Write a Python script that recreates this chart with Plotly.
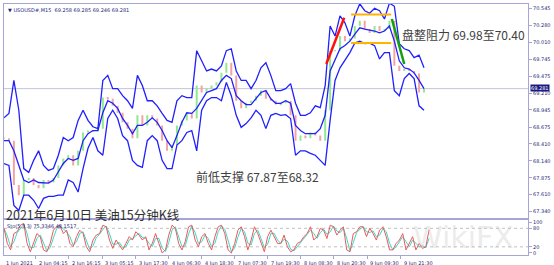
import numpy as np
import pandas as pd
import plotly.graph_objects as go

# ---------------- data ----------------
upper = [68.82, 68.89, 69.41, 68.94, 68.02, 67.96, 68.15, 68.30, 68.07, 67.99,
         68.02, 68.23, 68.51, 68.46, 68.51, 68.78, 68.94, 68.78, 68.68, 68.65,
         69.41, 69.49, 69.28, 69.28, 69.17, 69.09, 68.97, 69.49, 69.33, 69.09,
         69.09, 69.01, 68.89, 68.78, 68.75, 69.09, 69.17, 69.14, 69.14, 69.88,
         69.72, 69.56, 69.59, 69.56, 69.64, 69.88, 69.91, 69.56, 69.41, 69.41,
         69.28, 69.41, 69.61, 69.69, 69.49, 69.25, 69.25, 69.28, 69.36, 69.05,
         68.86, 68.86, 68.90, 69.01, 68.98, 69.33, 70.27, 70.11, 70.43, 70.32,
         70.11, 70.43, 70.62, 70.51, 70.47, 70.55, 70.51, 70.38, 70.63, 70.58,
         69.99, 69.91, 69.88, 69.77, 69.81, 69.61]
middle = [68.46, 68.46, 68.30, 68.07, 67.84, 67.80, 67.84, 67.80, 67.79, 67.79,
          67.84, 67.96, 68.10, 68.18, 68.15, 68.18, 68.46, 68.57, 68.62, 68.62,
          68.90, 69.09, 69.05, 68.97, 68.81, 68.70, 68.57, 68.70, 68.70, 68.75,
          68.82, 68.75, 68.62, 68.46, 68.35, 68.54, 68.75, 68.90, 68.89, 68.97,
          69.09, 69.22, 69.25, 69.28, 69.41, 69.49, 69.44, 69.17, 69.09, 69.03,
          69.03, 69.12, 69.22, 69.25, 69.12, 69.05, 69.05, 69.09, 69.05, 68.70,
          68.62, 68.57, 68.57, 68.57, 68.65, 68.86, 69.56, 69.75, 69.91, 69.96,
          70.03, 70.14, 70.24, 70.22, 70.21, 70.19, 70.16, 70.19, 70.27, 70.03,
          69.72, 69.61, 69.59, 69.53, 69.41, 69.28]
lower = [68.10, 68.07, 67.44, 67.36, 67.60, 67.60, 67.52, 67.39, 67.55, 67.58,
         67.58, 67.60, 67.60, 67.84, 67.80, 67.65, 68.02, 68.34, 68.51, 68.30,
         68.23, 68.81, 68.94, 68.81, 68.54, 68.46, 68.15, 68.07, 68.04, 68.46,
         68.54, 68.46, 68.15, 68.02, 68.02, 68.39, 68.46, 68.59, 68.62, 68.30,
         68.94, 69.09, 69.14, 69.14, 69.09, 69.38, 69.17, 68.86, 68.67, 68.73,
         68.82, 68.94, 68.86, 68.65, 68.86, 68.89, 68.86, 68.87, 68.81, 68.23,
         68.30, 68.30, 68.26, 68.23, 68.15, 68.07, 68.78, 69.41, 69.61, 69.72,
         69.85, 70.00, 70.03, 69.99, 70.00, 69.96, 69.75, 69.85, 69.85, 69.25,
         69.17, 69.44, 69.52, 69.44, 69.01, 68.94]
close = [68.50, 68.46, 67.76, 67.60, 67.84, 67.87, 67.76, 67.71, 67.84, 67.80,
         67.87, 68.07, 68.18, 68.23, 68.07, 68.30, 68.59, 68.62, 68.61, 68.65,
         69.14, 69.12, 69.01, 68.90, 68.75, 68.65, 68.50, 68.86, 68.70, 68.86,
         68.81, 68.70, 68.46, 68.30, 68.39, 68.70, 68.78, 68.90, 68.81, 69.33,
         69.22, 69.28, 69.33, 69.38, 69.53, 69.69, 69.49, 69.09, 68.97, 69.06,
         69.09, 69.17, 69.25, 69.12, 69.09, 69.03, 69.05, 69.09, 68.86, 68.46,
         68.54, 68.50, 68.59, 68.54, 68.46, 68.94, 69.88, 69.88, 70.11, 70.03,
         70.07, 70.27, 70.35, 70.22, 70.16, 70.27, 70.19, 70.22, 70.35, 69.64,
         69.56, 69.59, 69.56, 69.52, 69.22, 69.281]

sto_main = [80, 31, 10, 63, 69, 90, 96, 31, 4, 31, 63, 53, 10, 4, 31, 74, 85, 90, 63, 74,
            31, 20, 53, 74, 63, 20, 4, 42, 58, 63, 90, 85, 42, 15, 42, 26, 10, 31, 53, 42,
            69, 58, 42, 53, 10, 31, 63, 31, 0, 10, 58, 90, 80, 31, 10, 37, 85, 90, 42, 20,
            53, 63, 31, 10, 53, 85, 90, 63, 10, 0, 31, 74, 85, 53, 10, 42, 85, 63, 31, 4,
            53, 74, 53, 31,
            31, 58, 20, 4, 10, 31, 37, 53, 63, 85, 42, 53, 80, 74, 47, 90, 85, 58, 74, 85,
            10, 4, 63, 69, 85, 85, 53, 80, 63, 42, 74, 85, 53, 10, 10, 31, 42, 63, 10, 31,
            53, 10, 31, 15, 20, 75]

tick_labels = ["1 Jun 2021", "2 Jun 04:15", "2 Jun 16:15", "3 Jun 05:15", "3 Jun 17:30",
               "4 Jun 06:30", "4 Jun 18:30", "7 Jun 07:30", "7 Jun 19:30", "8 Jun 08:30",
               "8 Jun 20:30", "9 Jun 09:30", "9 Jun 21:30"]
price_ticks = [70.545, 70.280, 70.010, 69.745, 69.475, 69.210, 68.945, 68.675,
               68.410, 68.140, 67.875, 67.610, 67.340]
last_price = 69.281
resist_levels = [70.45, 70.00]
resist_bars = [503, 561]
red_trend = dict(x=[467, 493], y=[69.67, 70.40])
green_trend = dict(x=[562, 580], y=[70.38, 69.67])

# ---------------- positions ----------------
main_bar = np.arange(len(close)) * 7.16          # one reading every ~7 bars
sto_bar = np.arange(len(sto_main)) * 4.775
tick_bars = [-2 + 48 * i for i in range(len(tick_labels))]

opens = [close[0]] + close[:-1]
sto_signal = pd.Series(sto_main).rolling(2, min_periods=1).mean().tolist()

BLUE = "#1f1fff"
FRAME = "#a6a6d6"
TXT = "#26267a"
SMALL = dict(family="DejaVu Sans", size=5, color=TXT)
CJK = "Noto Sans CJK SC"

fig = go.Figure()

# candle bodies as thin vertical segments
up_x, up_y, dn_x, dn_y = [], [], [], []
for b, o, c in zip(main_bar, opens, close):
    lo, hi = min(o, c), max(o, c)
    if hi - lo < 0.02:
        hi, lo = hi + 0.01, lo - 0.01
    if c >= o:
        up_x += [b, b, None]; up_y += [lo, hi, None]
    else:
        dn_x += [b, b, None]; dn_y += [lo, hi, None]
fig.add_trace(go.Scatter(x=up_x, y=up_y, mode="lines", line=dict(color="#8fea8f", width=2),
                         showlegend=False, xaxis="x", yaxis="y"))
fig.add_trace(go.Scatter(x=dn_x, y=dn_y, mode="lines", line=dict(color="#f4a3a3", width=2),
                         showlegend=False, xaxis="x", yaxis="y"))

for arr in (upper, middle, lower):
    fig.add_trace(go.Scatter(x=main_bar, y=arr, mode="lines", line=dict(color=BLUE, width=1.3),
                             showlegend=False, xaxis="x", yaxis="y"))
# trend lines / levels
for lv in resist_levels:
    fig.add_trace(go.Scatter(x=resist_bars, y=[lv, lv], mode="lines",
                             line=dict(color="#ffb400", width=2), showlegend=False))
fig.add_trace(go.Scatter(x=red_trend["x"], y=red_trend["y"], mode="lines",
                         line=dict(color="#ff1010", width=2.5), showlegend=False))
fig.add_trace(go.Scatter(x=green_trend["x"], y=green_trend["y"], mode="lines",
                         line=dict(color="#10a010", width=2.5), showlegend=False))

# stochastic
fig.add_trace(go.Scatter(x=sto_bar, y=sto_signal, mode="lines", line=dict(color="#3fd6c6", width=1),
                         showlegend=False, xaxis="x2", yaxis="y2"))
fig.add_trace(go.Scatter(x=sto_bar, y=sto_main, mode="lines", line=dict(color="#e85a5a", width=1),
                         showlegend=False, xaxis="x2", yaxis="y2"))

shapes = [
    dict(type="line", xref="paper", x0=0, x1=1, yref="y", y0=last_price, y1=last_price,
         line=dict(color="#c4c4d8", width=1), layer="below"),
    dict(type="line", xref="paper", x0=0, x1=1, yref="y2", y0=80, y1=80,
         line=dict(color="#c0c0c0", width=1, dash="dot"), layer="below"),
    dict(type="line", xref="paper", x0=0, x1=1, yref="y2", y0=20, y1=20,
         line=dict(color="#c0c0c0", width=1, dash="dot"), layer="below"),
]

ann = [
    dict(text="▼ USOUSD#,M15  69.258 69.285 69.246 69.281", xref="paper", yref="paper",
         x=0.004, y=0.998, xanchor="left", yanchor="top", showarrow=False,
         font=dict(family="DejaVu Sans", size=5, color=TXT)),
    dict(text="Sto(5,3,3) 75.3346 48.1517", xref="paper", yref="y2", x=0.002, y=104,
         xanchor="left", yanchor="top", showarrow=False, font=dict(family="DejaVu Sans", size=5, color=TXT)),
    dict(text="盘整阻力 69.98至70.40", xref="x", yref="y", x=574, y=70.13, xanchor="left",
         yanchor="middle", showarrow=False, font=dict(family=CJK, size=12, color="#404040")),
    dict(text="前低支撑 67.87至68.32", xref="x", yref="y", x=276, y=67.89, xanchor="left",
         yanchor="middle", showarrow=False, font=dict(family=CJK, size=12, color="#404040")),
    dict(text="2021年6月10日 美油15分钟K线", xref="paper", yref="y", x=0.0, y=67.30, xanchor="left",
         yanchor="middle", showarrow=False, font=dict(family=CJK, size=12.5, color="#303030")),
    dict(text="WikiFX", xref="x2", yref="y2", x=590, y=50, xanchor="left", yanchor="middle",
         showarrow=False, font=dict(family="DejaVu Sans", size=30, color="rgba(200,200,200,0.35)")),
    dict(text=f"{last_price:.3f}", xref="paper", yref="y", x=1.003, y=last_price, xanchor="left",
         yanchor="middle", yshift=1, showarrow=False, bgcolor="#1a1a80", borderpad=0,
         font=dict(family="DejaVu Sans", size=5, color="white")),
]
for tb, tl in zip(tick_bars, tick_labels):
    ann.append(dict(text=tl, xref="x2", yref="paper", x=tb + 2, y=0, yshift=-3, xanchor="left",
                    yanchor="top", showarrow=False, font=SMALL))

fig.update_layout(
    width=554, height=265, margin=dict(l=3, r=21, t=3, b=10),
    paper_bgcolor="white", plot_bgcolor="white",
    xaxis=dict(domain=[0, 1], anchor="y", range=[0, 759.3], showticklabels=False, showgrid=False,
               zeroline=False, showline=True, mirror=True, linecolor=FRAME, linewidth=1),
    yaxis=dict(domain=[0.1468, 1], anchor="x", side="right", range=[67.238, 70.616],
               tickvals=price_ticks, ticktext=[f"{v:.3f}" for v in price_ticks],
               ticks="outside", ticklen=3, tickcolor=FRAME, tickfont=SMALL, showgrid=False,
               zeroline=False, showline=True, mirror=True, linecolor=FRAME, linewidth=1),
    xaxis2=dict(domain=[0, 1], anchor="y2", matches="x", range=[0, 759.3], tickvals=tick_bars,
                showticklabels=False, ticks="outside", ticklen=3, tickcolor=FRAME, showgrid=False,
                zeroline=False, showline=True, mirror=True, linecolor=FRAME, linewidth=1),
    yaxis2=dict(domain=[0, 0.1389], anchor="x2", side="right", range=[-6.5, 106.5],
                tickvals=[0, 20, 80, 100], ticks="outside", ticklen=3, tickcolor=FRAME,
                tickfont=SMALL, showgrid=False, zeroline=False, showline=True, mirror=True,
                linecolor=FRAME, linewidth=1),
    shapes=shapes, annotations=ann, showlegend=False,
)
fig.write_html("out.html")
